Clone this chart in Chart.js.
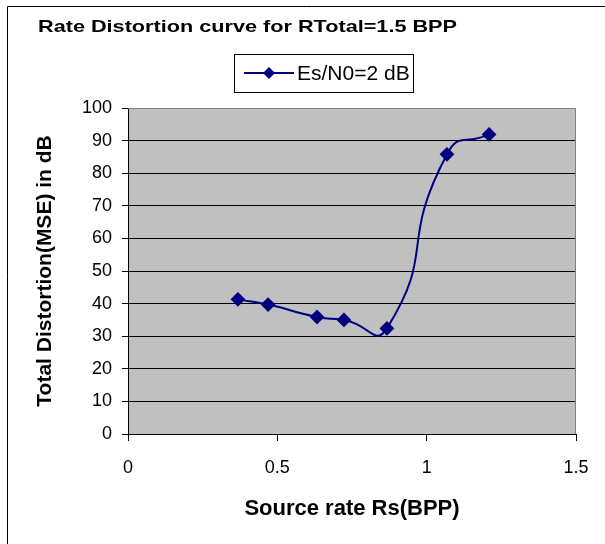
<!DOCTYPE html>
<html>
<head>
<meta charset="utf-8">
<script src="https://cdn.jsdelivr.net/npm/chart.js@4.4.0/dist/chart.umd.min.js"></script>
<style>
html, body { margin: 0; padding: 0; background: #fff; }
#wrap { width: 605px; height: 544px; position: relative; }
</style>
</head>
<body>
<div id="wrap"><canvas id="rd" width="605" height="544"></canvas></div>
<script>
// values
var chartTitle = 'Rate Distortion curve for RTotal=1.5 BPP';
var seriesLabel = 'Es/N0=2 dB';
var xTitle = 'Source rate Rs(BPP)';
var yTitle = 'Total Distortion(MSE) in dB';

var sourceRate = [0.368, 0.469, 0.633, 0.723, 0.867, 1.068, 1.209];
var totalDistortion = [41.3, 39.7, 35.9, 35.0, 32.4, 85.8, 91.9];

var xTicks = [0, 0.5, 1, 1.5];
var yTicks = [0, 10, 20, 30, 40, 50, 60, 70, 80, 90, 100];

var navy = '#000080';
var font = '"Liberation Sans", Arial, sans-serif';

var points = [];
sourceRate.forEach(function(x, i) {
	points.push({ x: x, y: totalDistortion[i] });
});

// little line+diamond used in the legend
function legendIcon() {
	var c = document.createElement('canvas');
	c.width = 50; c.height = 14;
	var g = c.getContext('2d');
	g.strokeStyle = navy; g.lineWidth = 2;
	g.beginPath(); g.moveTo(0, 7); g.lineTo(50, 7); g.stroke();
	g.fillStyle = navy;
	g.beginPath(); g.moveTo(25, 1); g.lineTo(31, 7); g.lineTo(25, 13); g.lineTo(19, 7); g.closePath(); g.fill();
	return c;
}

var frame = {
	id: 'frame',
	beforeDraw: function(chart) {
		var c = chart.ctx, a = chart.chartArea;
		c.save();
		c.fillStyle = '#fff';
		c.fillRect(0, 0, chart.width, chart.height);
		c.strokeStyle = '#000';
		c.lineWidth = 1;
		c.beginPath();
		c.moveTo(7.5, chart.height); c.lineTo(7.5, 6.5); c.lineTo(chart.width, 6.5);
		c.stroke();
		c.fillStyle = '#c0c0c0';
		c.fillRect(a.left, a.top, a.right - a.left, a.bottom - a.top);
		c.restore();
	},
	beforeDatasetsDraw: function(chart) {
		var c = chart.ctx, a = chart.chartArea;
		c.save();
		c.strokeStyle = '#808080';
		c.lineWidth = 1;
		c.beginPath();
		c.moveTo(a.left, a.top + 0.5); c.lineTo(a.right - 0.5, a.top + 0.5); c.lineTo(a.right - 0.5, a.bottom);
		c.stroke();
		c.restore();
	},
	afterDraw: function(chart) {
		var c = chart.ctx;
		c.save();
		// title, stretched to the width it has in the picture
		c.fillStyle = '#000';
		c.font = 'bold 17px ' + font;
		c.textBaseline = 'middle';
		c.textAlign = 'left';
		var w = c.measureText(chartTitle).width;
		c.save();
		c.translate(38, 27);
		c.scale(419 / w, 1);
		c.fillText(chartTitle, 0, 0);
		c.restore();
		// legend
		c.fillStyle = '#fff';
		c.fillRect(234, 54, 179, 38);
		c.strokeStyle = '#000';
		c.strokeRect(234.5, 54.5, 179, 38);
		c.drawImage(legendIcon(), 244, 66);
		c.fillStyle = '#000';
		c.font = '21px ' + font;
		c.fillText(chart.data.datasets[0].label, 297, 74);
		c.restore();
	}
};

var rdChart = new Chart(document.getElementById('rd'), {
	type: 'line',
	data: {
		datasets: [{
			label: seriesLabel,
			data: points,
			borderColor: navy,
			backgroundColor: navy,
			borderWidth: 2,
			tension: 0.6,
			pointStyle: 'rectRot',
			pointRadius: 6,
			pointHoverRadius: 6,
			pointBackgroundColor: navy,
			pointBorderColor: navy
		}]
	},
	options: {
		responsive: false,
		animation: false,
		devicePixelRatio: 1,
		layout: { padding: { left: 0, top: 108, right: 29, bottom: 0 } },
		plugins: {
			legend: { display: false },
			title: { display: false },
			tooltip: { enabled: false }
		},
		scales: {
			x: {
				type: 'linear',
				min: xTicks[0],
				max: xTicks[xTicks.length - 1],
				afterFit: function(s) { s.height = 110; },
				afterBuildTicks: function(s) { s.ticks = xTicks.map(function(v) { return { value: v }; }); },
				ticks: {
					color: '#000',
					font: { family: font, size: 18 },
					padding: 16,
					callback: function(v) { return String(v); }
				},
				grid: { drawOnChartArea: false, color: '#000', tickLength: 7 },
				border: { color: '#000' },
				title: {
					display: true,
					text: xTitle,
					color: '#000',
					font: { family: font, size: 22, weight: 'bold' },
					padding: { top: 0, bottom: 22 }
				}
			},
			y: {
				min: yTicks[0],
				max: yTicks[yTicks.length - 1],
				afterFit: function(s) { s.width = 128; },
				afterBuildTicks: function(s) { s.ticks = yTicks.map(function(v) { return { value: v }; }); },
				ticks: {
					color: '#000',
					font: { family: font, size: 18 },
					padding: 10
				},
				grid: {
					color: function(ctx) { return ctx.tick && ctx.tick.value === 100 ? '#808080' : '#000'; },
					tickColor: '#000',
					tickLength: 6
				},
				border: { color: '#000' },
				title: {
					display: true,
					text: yTitle,
					color: '#000',
					font: { family: font, size: 21, weight: 'bold' },
					padding: { top: 33, bottom: 0 }
				}
			}
		}
	},
	plugins: [frame]
});
</script>
</body>
</html>
